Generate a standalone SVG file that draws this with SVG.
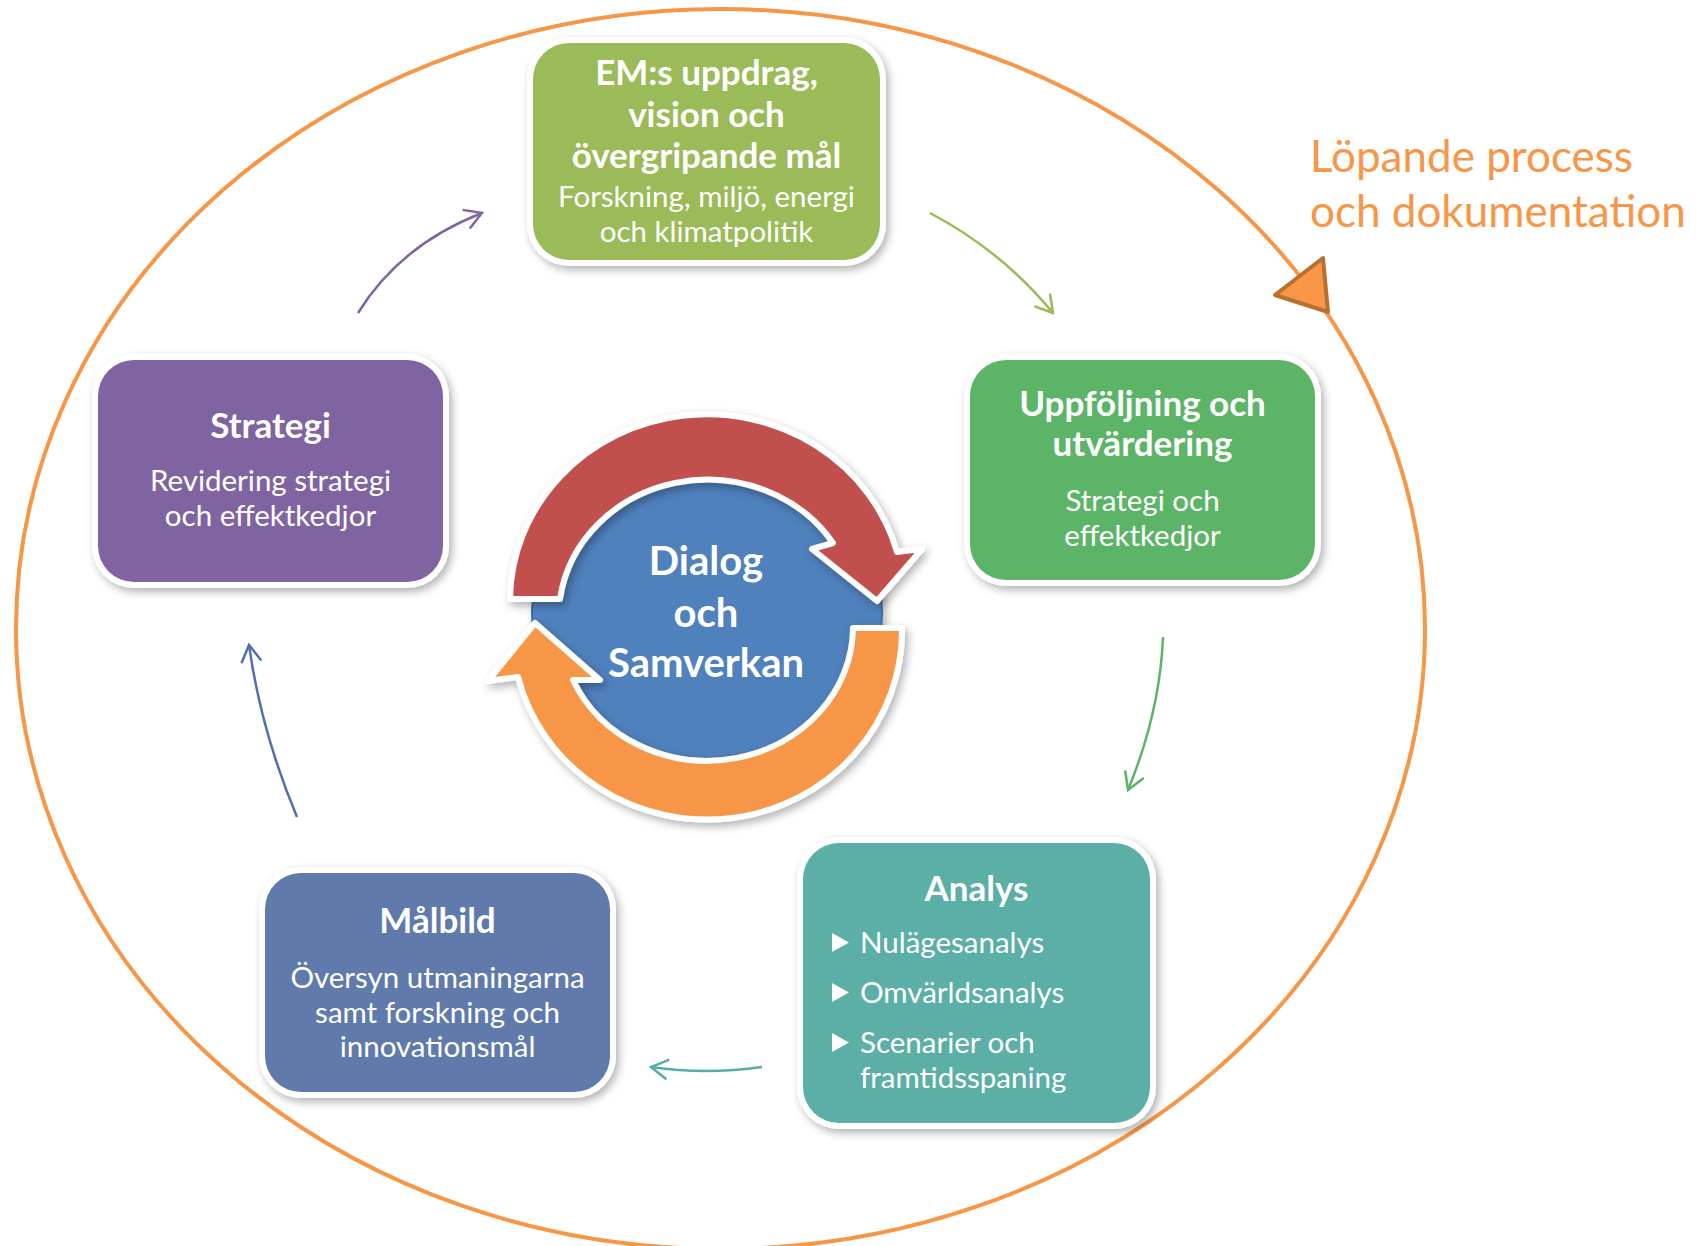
<svg xmlns="http://www.w3.org/2000/svg" width="1706" height="1246" viewBox="0 0 1706 1246">
<style>
  .t { font-family: Lato, "Open Sans", "Liberation Sans", sans-serif; fill: #ffffff; text-anchor: middle; }
  .ti { font-weight: bold; font-size: 35px; }
  .sb { font-size: 29.5px; }
  .bl { font-family: Lato, "Open Sans", "Liberation Sans", sans-serif; fill: #ffffff; font-size: 29.5px; }
  .frame { fill: #ffffff; filter: url(#sh); }
  .conn { fill: none; stroke-width: 2.5; }
</style>
<defs>
  <filter id="sh" x="-20%" y="-20%" width="140%" height="140%">
    <feDropShadow dx="3" dy="4" stdDeviation="4" flood-color="#000" flood-opacity="0.3"/>
  </filter>
  <marker id="mPu" viewBox="0 0 22 22" refX="20" refY="11" markerWidth="22" markerHeight="22" markerUnits="userSpaceOnUse" orient="auto"><path d="M3,1 L20,11 L3,21" fill="none" stroke="#8064A2" stroke-width="2.5"/></marker>
  <marker id="mOl" viewBox="0 0 22 22" refX="20" refY="11" markerWidth="22" markerHeight="22" markerUnits="userSpaceOnUse" orient="auto"><path d="M3,1 L20,11 L3,21" fill="none" stroke="#9BBB59" stroke-width="2.5"/></marker>
  <marker id="mGr" viewBox="0 0 22 22" refX="20" refY="11" markerWidth="22" markerHeight="22" markerUnits="userSpaceOnUse" orient="auto"><path d="M3,1 L20,11 L3,21" fill="none" stroke="#5CB567" stroke-width="2.5"/></marker>
  <marker id="mTe" viewBox="0 0 22 22" refX="20" refY="11" markerWidth="22" markerHeight="22" markerUnits="userSpaceOnUse" orient="auto"><path d="M3,1 L20,11 L3,21" fill="none" stroke="#56ADA3" stroke-width="2.5"/></marker>
  <marker id="mBl" viewBox="0 0 22 22" refX="20" refY="11" markerWidth="22" markerHeight="22" markerUnits="userSpaceOnUse" orient="auto"><path d="M3,1 L20,11 L3,21" fill="none" stroke="#5370AE" stroke-width="2.5"/></marker>
</defs>
<rect width="1706" height="1246" fill="#ffffff"/>

<g id="process-loop">
  <ellipse cx="720.5" cy="629" rx="704.5" ry="620" fill="none" stroke="#F79646" stroke-width="4"/>
  <polygon points="1275,295 1323,258 1328,312" fill="#F79646" stroke="#B96F2F" stroke-width="4" stroke-linejoin="round"/>
  <text x="1310" y="172" font-family="Lato, 'Open Sans', 'Liberation Sans', sans-serif" font-size="44" fill="#F79646">Löpande process</text>
  <text x="1310" y="227" font-family="Lato, 'Open Sans', 'Liberation Sans', sans-serif" font-size="44" fill="#F79646">och dokumentation</text>
</g>

<g id="connectors">
  <path class="conn" stroke="#8064A2" d="M358,313 Q400,245 482,213" marker-end="url(#mPu)"/>
  <path class="conn" stroke="#9BBB59" d="M930,213 Q1002,251 1053,313" marker-end="url(#mOl)"/>
  <path class="conn" stroke="#5CB567" d="M1163,637 Q1160,712 1128,790" marker-end="url(#mGr)"/>
  <path class="conn" stroke="#56ADA3" d="M762,1067 Q706,1075 651,1067" marker-end="url(#mTe)"/>
  <path class="conn" stroke="#5370AE" d="M297,817 Q261,731 249,645" marker-end="url(#mBl)"/>
</g>

<g id="center">
  <circle cx="707" cy="613" r="175" fill="#4F81BD" stroke="#3C6AA5" stroke-width="2" filter="url(#sh)"/>
  <path d="M510,599 A197,187 0 0 1 897,552 L922,549 L877,601 L812,549 L833,543 A149,138 0 0 0 560,599 Z" fill="#C0504D" stroke="#ffffff" stroke-width="6" stroke-linejoin="round" filter="url(#sh)"/>
  <path d="M853,628 L902,628 A195,189 0 0 1 518,677 L488,681 L535,623 L600,680 L573,680 A146,134 0 0 0 853,628 Z" fill="#F79646" stroke="#ffffff" stroke-width="6" stroke-linejoin="round" filter="url(#sh)"/>
  <text class="t" x="706" y="575" font-weight="bold" font-size="40">Dialog</text>
  <text class="t" x="706" y="627" font-weight="bold" font-size="40">och</text>
  <text class="t" x="706" y="677" font-weight="bold" font-size="40">Samverkan</text>
</g>

<g id="node-em">
  <rect class="frame" x="527" y="37" width="359" height="229" rx="42"/>
  <rect x="533" y="43" width="347" height="217" rx="36" fill="#9BBB59"/>
  <text class="t ti" x="706.5" y="85">EM:s uppdrag,</text>
  <text class="t ti" x="706.5" y="127">vision och</text>
  <text class="t ti" x="706.5" y="168">övergripande mål</text>
  <text class="t sb" x="706.5" y="207">Forskning, miljö, energi</text>
  <text class="t sb" x="706.5" y="242">och klimatpolitik</text>
</g>

<g id="node-uppfoljning">
  <rect class="frame" x="964" y="354" width="357" height="232" rx="42"/>
  <rect x="970" y="360" width="345" height="220" rx="36" fill="#5CB567"/>
  <text class="t ti" x="1142.5" y="416">Uppföljning och</text>
  <text class="t ti" x="1142.5" y="456">utvärdering</text>
  <text class="t sb" x="1142.5" y="511">Strategi och</text>
  <text class="t sb" x="1142.5" y="546">effektkedjor</text>
</g>

<g id="node-analys">
  <rect class="frame" x="797" y="837" width="359" height="292" rx="42"/>
  <rect x="803" y="843" width="347" height="280" rx="36" fill="#5BAFA6"/>
  <text class="t ti" x="976.5" y="901">Analys</text>
  <polygon points="832,933 849,942.5 832,952" fill="#ffffff"/>
  <text class="bl" x="860" y="953">Nulägesanalys</text>
  <polygon points="832,983 849,992.5 832,1002" fill="#ffffff"/>
  <text class="bl" x="860" y="1003">Omvärldsanalys</text>
  <polygon points="832,1033 849,1042.5 832,1052" fill="#ffffff"/>
  <text class="bl" x="860" y="1053">Scenarier och</text>
  <text class="bl" x="860" y="1088">framtidsspaning</text>
</g>

<g id="node-malbild">
  <rect class="frame" x="259" y="867" width="357" height="231" rx="42"/>
  <rect x="265" y="873" width="345" height="219" rx="36" fill="#5F7AAB"/>
  <text class="t ti" x="437.5" y="933">Målbild</text>
  <text class="t sb" x="437.5" y="988">Översyn utmaningarna</text>
  <text class="t sb" x="437.5" y="1023">samt forskning och</text>
  <text class="t sb" x="437.5" y="1057">innovationsmål</text>
</g>

<g id="node-strategi">
  <rect class="frame" x="92" y="354" width="357" height="234" rx="42"/>
  <rect x="98" y="360" width="345" height="222" rx="36" fill="#8064A2"/>
  <text class="t ti" x="270.5" y="438">Strategi</text>
  <text class="t sb" x="270.5" y="491">Revidering strategi</text>
  <text class="t sb" x="270.5" y="526">och effektkedjor</text>
</g>
</svg>
